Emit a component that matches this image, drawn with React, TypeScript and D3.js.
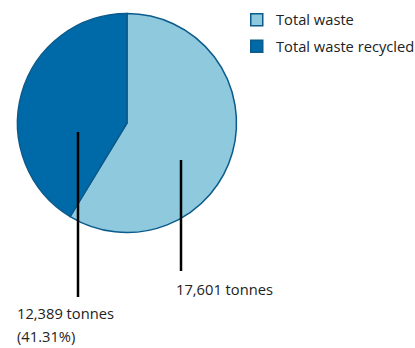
import React from "react";
import * as d3 from "d3";

const categories = ["Total waste", "Total waste recycled"];
const values = [17601, 12389];
const labelLines = [["17,601 tonnes"], ["12,389 tonnes", "(41.31%)"]];
const colors = ["#8ec9dd", "#0069a7"];

export default function App() {
  const cx = 127, cy = 123, r = 109.5;
  const pie = d3.pie<number>().sort(null).value((d) => d)(values);
  const arc = d3.arc<d3.PieArcDatum<number>>().innerRadius(0).outerRadius(r);
  const leaders = [
    { x: 181, y1: 160, y2: 271, tx: 176, ty: 295 },
    { x: 78, y1: 132, y2: 297, tx: 17, ty: 319 },
  ];
  const font = "'Open Sans', 'Noto Sans', sans-serif";
  return (
    <svg width={415} height={348} style={{ position: "absolute", left: 0, top: 0 }}>
      <rect width={415} height={348} fill="#fff" />
      <g transform={`translate(${cx},${cy})`}>
        {pie.map((p, i) => (
          <path key={i} d={arc(p) || ""} fill={colors[i]} stroke="#0b5b8c" strokeWidth={1.5} />
        ))}
      </g>
      {leaders.map((l, i) => (
        <g key={i}>
          <line x1={l.x} x2={l.x} y1={l.y1} y2={l.y2} stroke="#000" strokeWidth={2.5} />
          {labelLines[i].map((t, j) => (
            <text key={j} x={l.tx} y={l.ty + j * 22.5} fontFamily={font} fontSize={14.7} fill="#222">
              {t}
            </text>
          ))}
        </g>
      ))}
      {categories.map((c, i) => (
        <g key={c} transform={`translate(250,${13 + i * 26.5})`}>
          <rect x={0.75} y={0.75} width={12} height={12} fill={colors[i]} stroke="#0b5b8c" strokeWidth={1.5} />
          <text x={26} y={12} fontFamily={font} fontSize={14.7} fill="#222">
            {c}
          </text>
        </g>
      ))}
    </svg>
  );
}
